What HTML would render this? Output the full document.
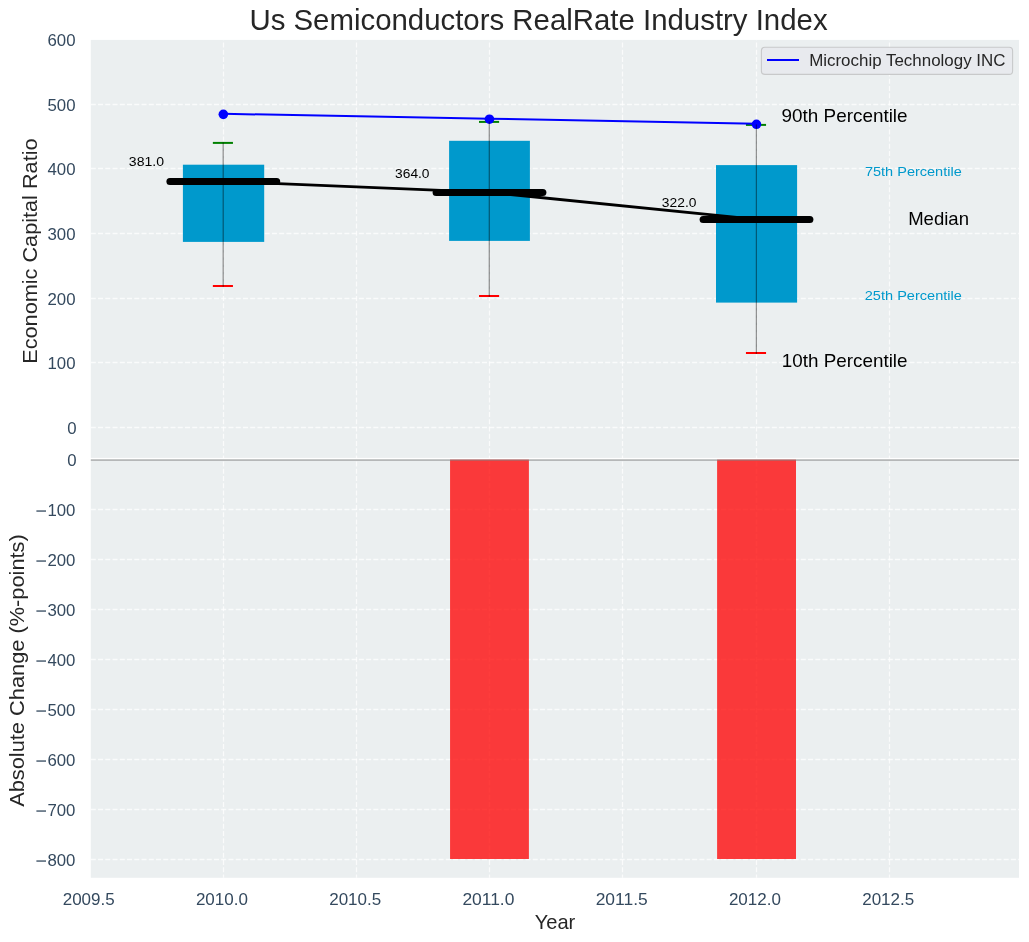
<!DOCTYPE html>
<html><head><meta charset="utf-8"><style>html,body{margin:0;padding:0;background:#fff;}svg{display:block;will-change:transform;}text{font-family:"Liberation Sans",sans-serif;}</style></head>
<body><svg width="1029" height="942" viewBox="0 0 1029 942" font-family="Liberation Sans, sans-serif"><rect x="0" y="0" width="1029" height="942" fill="#ffffff"/>
<rect x="90.8" y="39.9" width="928.2" height="418.0" fill="#ebeff0"/>
<rect x="90.8" y="459.2" width="928.2" height="418.59999999999997" fill="#ebeff0"/>
<g stroke="#ffffff" stroke-width="1.3" stroke-dasharray="5.02 2.225" stroke-dashoffset="0" stroke-opacity="0.75"><line x1="90.8" y1="427.50" x2="1019.0" y2="427.50"/><line x1="90.8" y1="362.50" x2="1019.0" y2="362.50"/><line x1="90.8" y1="298.50" x2="1019.0" y2="298.50"/><line x1="90.8" y1="233.50" x2="1019.0" y2="233.50"/><line x1="90.8" y1="168.50" x2="1019.0" y2="168.50"/><line x1="90.8" y1="104.50" x2="1019.0" y2="104.50"/><line x1="223.50" y1="457.9" x2="223.50" y2="39.9" stroke-dashoffset="2.5"/><line x1="356.50" y1="457.9" x2="356.50" y2="39.9" stroke-dashoffset="2.5"/><line x1="489.50" y1="457.9" x2="489.50" y2="39.9" stroke-dashoffset="2.5"/><line x1="622.50" y1="457.9" x2="622.50" y2="39.9" stroke-dashoffset="2.5"/><line x1="756.50" y1="457.9" x2="756.50" y2="39.9" stroke-dashoffset="2.5"/><line x1="889.50" y1="457.9" x2="889.50" y2="39.9" stroke-dashoffset="2.5"/></g>
<g stroke="#ffffff" stroke-width="1.3" stroke-dasharray="5.02 2.225" stroke-dashoffset="0" stroke-opacity="0.75"><line x1="90.8" y1="509.50" x2="1019.0" y2="509.50"/><line x1="90.8" y1="559.50" x2="1019.0" y2="559.50"/><line x1="90.8" y1="609.50" x2="1019.0" y2="609.50"/><line x1="90.8" y1="659.50" x2="1019.0" y2="659.50"/><line x1="90.8" y1="709.50" x2="1019.0" y2="709.50"/><line x1="90.8" y1="759.50" x2="1019.0" y2="759.50"/><line x1="90.8" y1="809.50" x2="1019.0" y2="809.50"/><line x1="90.8" y1="859.50" x2="1019.0" y2="859.50"/><line x1="223.50" y1="877.8" x2="223.50" y2="459.2" stroke-dashoffset="1.6"/><line x1="356.50" y1="877.8" x2="356.50" y2="459.2" stroke-dashoffset="1.6"/><line x1="489.50" y1="877.8" x2="489.50" y2="459.2" stroke-dashoffset="1.6"/><line x1="622.50" y1="877.8" x2="622.50" y2="459.2" stroke-dashoffset="1.6"/><line x1="756.50" y1="877.8" x2="756.50" y2="459.2" stroke-dashoffset="1.6"/><line x1="889.50" y1="877.8" x2="889.50" y2="459.2" stroke-dashoffset="1.6"/></g>
<rect x="182.9" y="164.7" width="81.30" height="77.20" fill="#0099cc"/>
<rect x="449.1" y="140.8" width="80.80" height="100.10" fill="#0099cc"/>
<rect x="716.0" y="165.1" width="81.10" height="137.50" fill="#0099cc"/>
<line x1="212.85" y1="142.9" x2="232.95" y2="142.9" stroke="#008000" stroke-width="2"/>
<line x1="212.85" y1="286.0" x2="232.95" y2="286.0" stroke="#ff0000" stroke-width="2"/>
<line x1="479.00" y1="121.9" x2="499.10" y2="121.9" stroke="#008000" stroke-width="2"/>
<line x1="479.00" y1="296.0" x2="499.10" y2="296.0" stroke="#ff0000" stroke-width="2"/>
<line x1="745.95" y1="124.9" x2="766.05" y2="124.9" stroke="#008000" stroke-width="2"/>
<line x1="745.95" y1="353.0" x2="766.05" y2="353.0" stroke="#ff0000" stroke-width="2"/>
<polyline points="223.3,181.4 489.5,192.4 756.5,219.4" fill="none" stroke="#000" stroke-width="2.8" stroke-linejoin="round"/>
<line x1="169.90" y1="181.4" x2="276.70" y2="181.4" stroke="#000" stroke-width="7" stroke-linecap="round"/>
<line x1="436.10" y1="192.4" x2="542.90" y2="192.4" stroke="#000" stroke-width="7" stroke-linecap="round"/>
<line x1="703.10" y1="219.4" x2="809.90" y2="219.4" stroke="#000" stroke-width="7" stroke-linecap="round"/>
<polyline points="223.35,113.8 489.45,118.7 756.45,123.7" fill="none" stroke="#0000ff" stroke-width="2"/>
<circle cx="223.35" cy="114.35" r="4.8" fill="#0000ff"/>
<circle cx="489.45" cy="119.2" r="4.8" fill="#0000ff"/>
<circle cx="756.45" cy="124.3" r="4.8" fill="#0000ff"/>
<line x1="223.20" y1="142.4" x2="223.20" y2="286.8" stroke="#000000" stroke-opacity="0.42" stroke-width="1.25"/>
<line x1="489.30" y1="121.4" x2="489.30" y2="296.8" stroke="#000000" stroke-opacity="0.42" stroke-width="1.25"/>
<line x1="756.40" y1="124.4" x2="756.40" y2="353.8" stroke="#000000" stroke-opacity="0.42" stroke-width="1.25"/>
<text x="128.86" y="166.00" font-size="12.30" fill="#000" textLength="35.18" lengthAdjust="spacingAndGlyphs">381.0</text>
<text x="395.08" y="178.00" font-size="12.30" fill="#000" textLength="34.46" lengthAdjust="spacingAndGlyphs">364.0</text>
<text x="661.87" y="206.60" font-size="12.30" fill="#000" textLength="34.57" lengthAdjust="spacingAndGlyphs">322.0</text>
<text x="781.62" y="121.80" font-size="17.80" fill="#000" textLength="125.92" lengthAdjust="spacingAndGlyphs">90th Percentile</text>
<text x="864.96" y="175.90" font-size="12.60" fill="#0099cc" textLength="96.79" lengthAdjust="spacingAndGlyphs">75th Percentile</text>
<text x="908.18" y="225.00" font-size="17.90" fill="#000" textLength="60.83" lengthAdjust="spacingAndGlyphs">Median</text>
<text x="864.77" y="300.00" font-size="12.60" fill="#0099cc" textLength="97.08" lengthAdjust="spacingAndGlyphs">25th Percentile</text>
<text x="781.87" y="366.70" font-size="17.80" fill="#000" textLength="125.67" lengthAdjust="spacingAndGlyphs">10th Percentile</text>
<rect x="761.4" y="47.3" width="251.2" height="27.1" rx="3.5" ry="3.5" fill="#e8eaee" stroke="#c8c9ca" stroke-width="1.1"/>
<line x1="767" y1="60.0" x2="799" y2="60.0" stroke="#0000ff" stroke-width="2"/>
<text x="809.13" y="66.10" font-size="17.00" fill="#262626" textLength="196.41" lengthAdjust="spacingAndGlyphs">Microchip Technology INC</text>
<rect x="450.06" y="459.6" width="78.84" height="399.4" fill="#ff0000" fill-opacity="0.76"/>
<rect x="717.1" y="459.6" width="78.90" height="399.4" fill="#ff0000" fill-opacity="0.76"/>
<line x1="90.8" y1="460.1" x2="1019.0" y2="460.1" stroke="#808080" stroke-opacity="0.5" stroke-width="1.8"/>
<text x="67.21" y="433.65" font-size="16.80" fill="#34495e" textLength="9.34" lengthAdjust="spacingAndGlyphs">0</text>
<text x="47.53" y="368.65" font-size="16.80" fill="#34495e" textLength="28.03" lengthAdjust="spacingAndGlyphs">100</text>
<text x="47.53" y="304.65" font-size="16.80" fill="#34495e" textLength="28.03" lengthAdjust="spacingAndGlyphs">200</text>
<text x="47.53" y="239.65" font-size="16.80" fill="#34495e" textLength="28.03" lengthAdjust="spacingAndGlyphs">300</text>
<text x="47.53" y="174.65" font-size="16.80" fill="#34495e" textLength="28.03" lengthAdjust="spacingAndGlyphs">400</text>
<text x="47.53" y="110.65" font-size="16.80" fill="#34495e" textLength="28.03" lengthAdjust="spacingAndGlyphs">500</text>
<text x="47.53" y="45.65" font-size="16.80" fill="#34495e" textLength="28.03" lengthAdjust="spacingAndGlyphs">600</text>
<text x="47.43" y="865.70" font-size="16.80" fill="#34495e" textLength="28.03" lengthAdjust="spacingAndGlyphs">800</text>
<rect x="36.4" y="860.40" width="9.6" height="1.3" fill="#34495e"/>
<text x="47.43" y="815.70" font-size="16.80" fill="#34495e" textLength="28.03" lengthAdjust="spacingAndGlyphs">700</text>
<rect x="36.4" y="810.40" width="9.6" height="1.3" fill="#34495e"/>
<text x="47.43" y="765.70" font-size="16.80" fill="#34495e" textLength="28.03" lengthAdjust="spacingAndGlyphs">600</text>
<rect x="36.4" y="760.40" width="9.6" height="1.3" fill="#34495e"/>
<text x="47.43" y="715.70" font-size="16.80" fill="#34495e" textLength="28.03" lengthAdjust="spacingAndGlyphs">500</text>
<rect x="36.4" y="710.40" width="9.6" height="1.3" fill="#34495e"/>
<text x="47.43" y="665.70" font-size="16.80" fill="#34495e" textLength="28.03" lengthAdjust="spacingAndGlyphs">400</text>
<rect x="36.4" y="660.40" width="9.6" height="1.3" fill="#34495e"/>
<text x="47.43" y="615.70" font-size="16.80" fill="#34495e" textLength="28.03" lengthAdjust="spacingAndGlyphs">300</text>
<rect x="36.4" y="610.40" width="9.6" height="1.3" fill="#34495e"/>
<text x="47.43" y="565.70" font-size="16.80" fill="#34495e" textLength="28.03" lengthAdjust="spacingAndGlyphs">200</text>
<rect x="36.4" y="560.40" width="9.6" height="1.3" fill="#34495e"/>
<text x="47.43" y="515.70" font-size="16.80" fill="#34495e" textLength="28.03" lengthAdjust="spacingAndGlyphs">100</text>
<rect x="36.4" y="510.40" width="9.6" height="1.3" fill="#34495e"/>
<text x="67.21" y="465.70" font-size="16.80" fill="#34495e" textLength="9.34" lengthAdjust="spacingAndGlyphs">0</text>
<text x="62.68" y="905.10" font-size="17.00" fill="#34495e" textLength="52.00" lengthAdjust="spacingAndGlyphs">2009.5</text>
<text x="195.91" y="905.10" font-size="17.00" fill="#34495e" textLength="52.00" lengthAdjust="spacingAndGlyphs">2010.0</text>
<text x="329.18" y="905.10" font-size="17.00" fill="#34495e" textLength="52.00" lengthAdjust="spacingAndGlyphs">2010.5</text>
<text x="462.41" y="905.10" font-size="17.00" fill="#34495e" textLength="52.00" lengthAdjust="spacingAndGlyphs">2011.0</text>
<text x="595.68" y="905.10" font-size="17.00" fill="#34495e" textLength="52.00" lengthAdjust="spacingAndGlyphs">2011.5</text>
<text x="728.91" y="905.10" font-size="17.00" fill="#34495e" textLength="52.00" lengthAdjust="spacingAndGlyphs">2012.0</text>
<text x="862.18" y="905.10" font-size="17.00" fill="#34495e" textLength="52.00" lengthAdjust="spacingAndGlyphs">2012.5</text>
<g transform="translate(37.00,362.00) rotate(-90)"><text x="-1.78" y="0" font-size="20.30" fill="#262626" textLength="225.29" lengthAdjust="spacingAndGlyphs">Economic Capital Ratio</text></g>
<g transform="translate(23.90,806.80) rotate(-90)"><text x="-0.04" y="0" font-size="20.30" fill="#262626" textLength="272.59" lengthAdjust="spacingAndGlyphs">Absolute Change (%-points)</text></g>
<text x="534.68" y="928.70" font-size="20.20" fill="#262626" textLength="40.64" lengthAdjust="spacingAndGlyphs">Year</text>
<text x="249.43" y="29.60" font-size="28.90" fill="#262626" textLength="578.18" lengthAdjust="spacingAndGlyphs">Us Semiconductors RealRate Industry Index</text></svg></body></html>
